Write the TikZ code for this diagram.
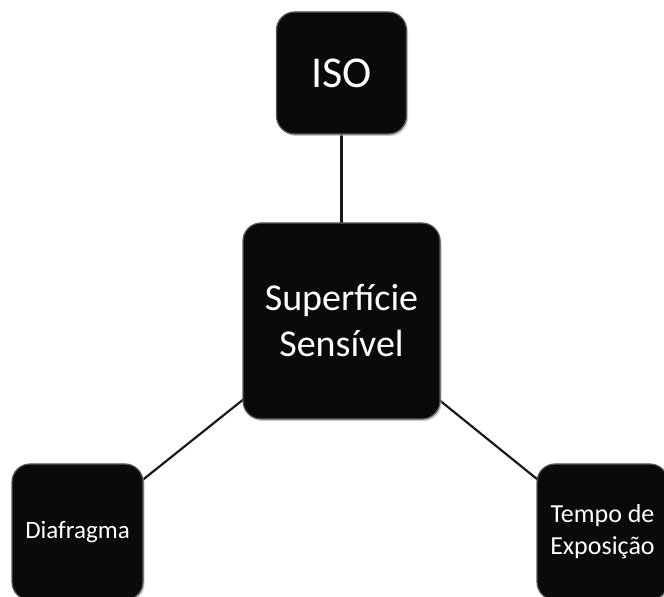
\documentclass[tikz,border=0pt]{standalone}
\usepackage{fontspec}
\setmainfont{Carlito}
\usetikzlibrary{backgrounds,shadows}
\definecolor{boxfill}{HTML}{0A0A0A}
\definecolor{boxedge}{HTML}{5A5A5A}
\tikzset{
  card/.style={rectangle, rounded corners=18pt, fill=boxfill, draw=boxedge, line width=1.2pt,
    text=white, align=center, inner sep=0pt,
    drop shadow={shadow xshift=1.5pt, shadow yshift=-2pt, fill=black!35, opacity=0.6}},
  link/.style={draw=black!90, line width=2.2pt}
}
\begin{document}
\begin{tikzpicture}[x=1pt,y=1pt]
\useasboundingbox (0,0) rectangle (664,597);
\node[card, minimum width=130pt, minimum height=122pt, font=\fontsize{44}{48}\selectfont] (iso) at (341.5,524) {ISO};
\node[card, minimum width=197pt, minimum height=196pt, font=\fontsize{38}{46}\selectfont] (sup) at (341.5,276) {Superfície\\Sensível};
\node[card, minimum width=131pt, minimum height=136pt, font=\fontsize{25}{30}\selectfont] (dia) at (77.5,65) {Diafragma};
\node[card, minimum width=131pt, minimum height=136pt, font=\fontsize{26}{32}\selectfont] (tem) at (602.5,65) {Tempo de\\Exposição};
\begin{pgfonlayer}{background}
\fill[white] (0,0) rectangle (664,597);
\draw[link] (iso.center) -- (sup.center);
\draw[link] (sup.center) -- (dia.center);
\draw[link] (sup.center) -- (tem.center);
\end{pgfonlayer}
\end{tikzpicture}
\end{document}
